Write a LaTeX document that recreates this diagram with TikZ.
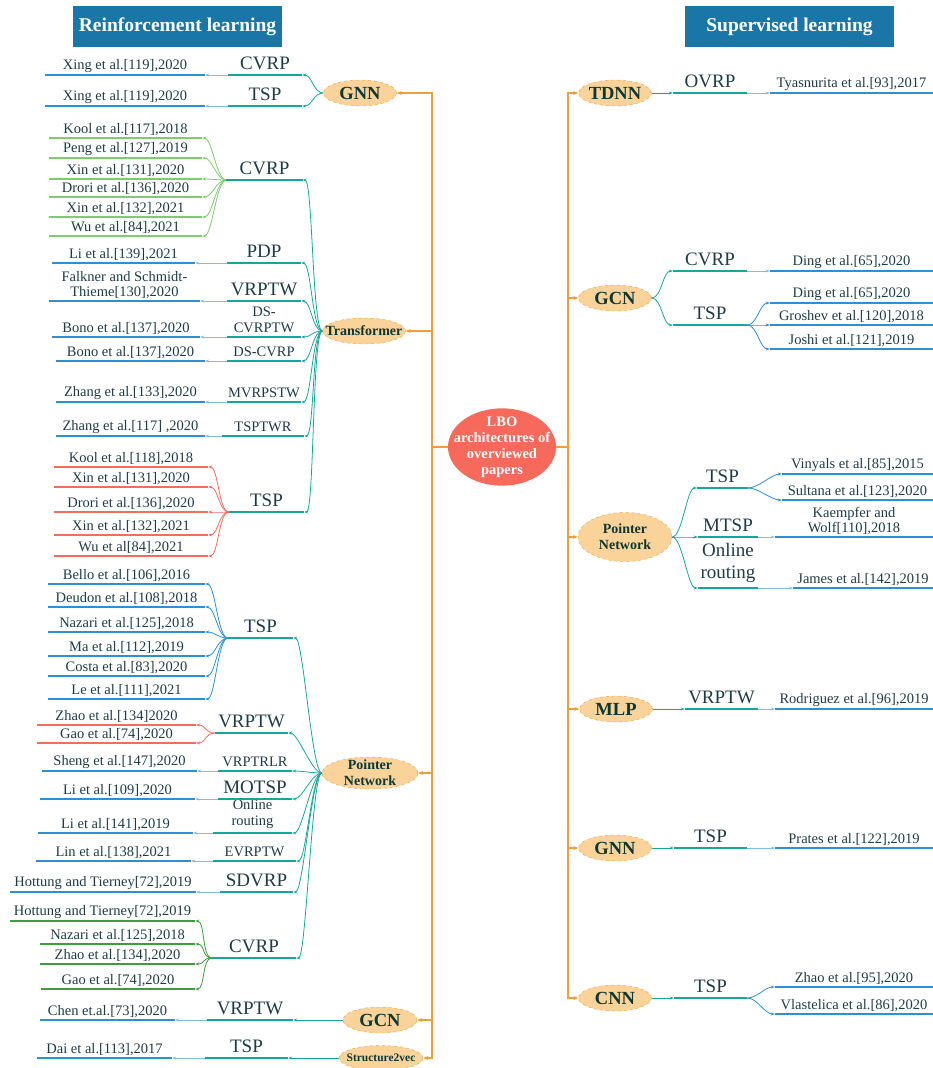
\documentclass[tikz,border=0pt]{standalone}
\usepackage{fontspec}
\setmainfont{Liberation Serif}
\usetikzlibrary{arrows.meta,shapes.geometric}
\definecolor{lbored}{HTML}{F7695B}
\definecolor{trunkor}{HTML}{EE9F3A}
\definecolor{archfill}{HTML}{FAD39A}
\definecolor{archink}{HTML}{0D3733}
\definecolor{headblue}{HTML}{1A76A6}
\definecolor{tealln}{HTML}{14A89C}
\definecolor{refblue}{HTML}{2B90D6}
\definecolor{lgreen}{HTML}{7ECC6F}
\definecolor{dgreen}{HTML}{3E9D3E}
\definecolor{refred}{HTML}{F66B5C}
\definecolor{ink}{HTML}{1F3C46}
\tikzset{
  root/.style={ellipse,fill=lbored,text=white,align=center,
    font=\bfseries\fontsize{14.5}{16}\selectfont,inner xsep=-11pt,inner ysep=-3pt,
    minimum width=108pt,minimum height=76pt},
  arch/.style={ellipse,draw=trunkor,dashed,fill=archfill,text=archink,align=center,
    font=\bfseries\fontsize{18.5}{20}\selectfont,inner xsep=-10pt,inner ysep=-2pt,
    minimum width=73pt,minimum height=26pt},
  head/.style={fill=headblue,text=white,font=\bfseries\fontsize{19.5}{22}\selectfont,
    minimum width=209pt,minimum height=41pt},
  task/.style={anchor=south,text=ink,align=center,inner xsep=0pt,inner ysep=5pt,
    font=\fontsize{19}{22}\selectfont},
  stask/.style={task,inner ysep=4pt,font=\fontsize{14.5}{16}\selectfont},
  paper/.style={anchor=south,text=ink,align=center,inner xsep=0pt,inner ysep=2.5pt,
    font=\fontsize{14.5}{15}\selectfont},
  trunk/.style={draw=trunkor,line width=1.1pt},
  feed/.style={trunk,-{Stealth[length=5pt,width=4pt]}},
  branch/.style={draw=tealln,line width=0.8pt,-{Stealth[length=4pt,width=3pt]}},
  link/.style={draw=#1,line width=0.8pt,-{Stealth[length=4pt,width=3pt]}},
  link/.default=refblue!60,
  taskline/.style={draw=tealln,line width=2.4pt},
  refline/.style={draw=#1,line width=2.4pt},
  lfan/.style={to path={.. controls ([xshift=-10pt]\tikztostart) and ([xshift=10pt]\tikztotarget) .. (\tikztotarget)}},
  rfan/.style={to path={.. controls ([xshift=10pt]\tikztostart) and ([xshift=-10pt]\tikztotarget) .. (\tikztotarget)}},
}
\begin{document}
\begin{tikzpicture}[x=1pt,y=-1pt]
\useasboundingbox (0,0) rectangle (933,1068);
\node[head] (rlhead) at (177.5,26.5) {Reinforcement learning};
\node[head] (slhead) at (789.5,26.5) {Supervised learning};
\node[root] (root) at (502,447) {LBO\\architectures of\\overviewed\\papers};
% reinforcement learning side
\node[arch] (lGNN) at (360,93) {GNN};
\node[task,minimum width=74pt] (lgCVRP) at (265,75) {CVRP};
\node[task,minimum width=74pt] (lgTSP) at (265,106) {TSP};
\node[paper,minimum width=160pt] (lgXing1) at (125,75) {Xing et al.[119],2020};
\node[paper,minimum width=160pt] (lgXing2) at (125,106) {Xing et al.[119],2020};
\node[arch,font=\bfseries\fontsize{14}{16}\selectfont,minimum width=83pt] (lTF) at (364,331) {Transformer};
\node[task,minimum width=76pt] (tfCVRP) at (264.5,180) {CVRP};
\node[task,minimum width=74pt] (tfPDP) at (264,263) {PDP};
\node[task,minimum width=74pt] (tfVRPTW) at (264,301) {VRPTW};
\node[stask,minimum width=74pt] (tfDSTW) at (264,337) {DS-\\CVRPTW};
\node[stask,minimum width=74pt] (tfDS) at (264,361) {DS-CVRP};
\node[stask,minimum width=74pt] (tfMV) at (264,402) {MVRPSTW};
\node[stask,minimum width=82pt] (tfTW) at (263,436) {TSPTWR};
\node[task,minimum width=75pt] (tfTSP) at (266.5,512) {TSP};
\node[paper,minimum width=153pt] (tfc1) at (125.5,138) {Kool et al.[117],2018};
\node[paper,minimum width=153pt] (tfc2) at (125.5,158) {Peng et al.[127],2019};
\node[paper,minimum width=153pt] (tfc3) at (125.5,179) {Xin et al.[131],2020};
\node[paper,minimum width=153pt] (tfc4) at (125.5,197) {Drori et al.[136],2020};
\node[paper,minimum width=153pt] (tfc5) at (125.5,217) {Xin et al.[132],2021};
\node[paper,minimum width=153pt] (tfc6) at (125.5,236) {Wu et al.[84],2021};
\node[paper,minimum width=143pt] (tfPDPp) at (123.5,263) {Li et al.[139],2021};
\node[paper,minimum width=151pt] (tfVRPTWp) at (124.5,301) {Falkner and Schmidt-\\Thieme[130],2020};
\node[paper,minimum width=148pt] (tfDSTWp) at (126,337) {Bono et al.[137],2020};
\node[paper,minimum width=149pt] (tfDSp) at (130.5,361) {Bono et al.[137],2020};
\node[paper,minimum width=149pt] (tfMVp) at (130.5,402) {Zhang et al.[133],2020};
\node[paper,minimum width=149pt] (tfTWp) at (130.5,436) {Zhang et al.[117] ,2020};
\node[paper,minimum width=154pt] (tft1) at (131,467) {Kool et al.[118],2018};
\node[paper,minimum width=154pt] (tft2) at (131,487) {Xin et al.[131],2020};
\node[paper,minimum width=154pt] (tft3) at (131,512) {Drori et al.[136],2020};
\node[paper,minimum width=154pt] (tft4) at (131,535) {Xin et al.[132],2021};
\node[paper,minimum width=154pt] (tft5) at (131,556) {Wu et al[84],2021};
\node[arch,font=\bfseries\fontsize{14}{16}\selectfont,minimum width=96pt,minimum height=32pt] (lPN) at (370,773) {Pointer\\Network};
\node[task,minimum width=65pt] (pnTSP) at (260.5,638) {TSP};
\node[task,minimum width=73pt] (pnVRPTW) at (251.5,733) {VRPTW};
\node[stask,minimum width=74pt] (pnRLR) at (255,771) {VRPTRLR};
\node[task,minimum width=74pt] (pnMO) at (255,799) {MOTSP};
\node[stask,minimum width=79pt] (pnOR) at (252.5,833) {Online\\routing};
\node[stask,minimum width=83pt] (pnEV) at (254.5,861) {EVRPTW};
\node[task,minimum width=73pt] (pnSD) at (256.5,892) {SDVRP};
\node[task,minimum width=84pt] (pnCVRP) at (254,958) {CVRP};
\node[paper,minimum width=157pt] (pnt1) at (126.5,584) {Bello et al.[106],2016};
\node[paper,minimum width=157pt] (pnt2) at (126.5,607) {Deudon et al.[108],2018};
\node[paper,minimum width=157pt] (pnt3) at (126.5,632) {Nazari et al.[125],2018};
\node[paper,minimum width=157pt] (pnt4) at (126.5,656) {Ma et al.[112],2019};
\node[paper,minimum width=157pt] (pnt5) at (126.5,676) {Costa et al.[83],2020};
\node[paper,minimum width=157pt] (pnt6) at (126.5,699) {Le et al.[111],2021};
\node[paper,minimum width=159pt] (pnv1) at (116.5,725) {Zhao et al.[134]2020};
\node[paper,minimum width=159pt] (pnv2) at (116.5,743) {Gao et al.[74],2020};
\node[paper,minimum width=155pt] (pnRLRp) at (119.5,771) {Sheng et al.[147],2020};
\node[paper,minimum width=155pt] (pnMOp) at (117.5,799) {Li et al.[109],2020};
\node[paper,minimum width=155pt] (pnORp) at (115.5,833) {Li et al.[141],2019};
\node[paper,minimum width=155pt] (pnEVp) at (113.5,861) {Lin et al.[138],2021};
\node[paper,minimum width=186pt] (pnSDp) at (103,892) {Hottung and Tierney[72],2019};
\node[paper,minimum width=185pt] (pnc1) at (102.5,921) {Hottung and Tierney[72],2019};
\node[paper,minimum width=155pt] (pnc2) at (117.5,944) {Nazari et al.[125],2018};
\node[paper,minimum width=155pt] (pnc3) at (117.5,964) {Zhao et al.[134],2020};
\node[paper,minimum width=154pt] (pnc4) at (118,989) {Gao et al.[74],2020};
\node[arch,minimum width=74pt] (lGCN) at (380,1020) {GCN};
\node[task,minimum width=86pt] (gcVRPTW) at (250,1020) {VRPTW};
\node[paper,minimum width=135pt] (gcP) at (107.5,1020) {Chen et.al.[73],2020};
\node[arch,font=\bfseries\fontsize{11.5}{13}\selectfont,minimum width=84pt,minimum height=25pt] (lS2V) at (381,1058) {Structure2vec};
\node[task,minimum width=83pt] (svTSP) at (246.5,1058) {TSP};
\node[paper,minimum width=135pt] (svP) at (104.5,1058) {Dai et al.[113],2017};
% supervised learning side
\node[arch] (rTDNN) at (615,93) {TDNN};
\node[task,minimum width=74pt] (rtOVRP) at (710,93) {OVRP};
\node[paper,minimum width=163pt] (rtP) at (851.5,93) {Tyasnurita et al.[93],2017};
\node[arch] (rGCN) at (615,298) {GCN};
\node[task,minimum width=74pt] (rgCVRP) at (710,271) {CVRP};
\node[task,minimum width=74pt] (rgTSP) at (710,325) {TSP};
\node[paper,minimum width=163pt] (rgc1) at (851.5,271) {Ding et al.[65],2020};
\node[paper,minimum width=163pt] (rgt1) at (851.5,303) {Ding et al.[65],2020};
\node[paper,minimum width=163pt] (rgt2) at (851.5,325) {Groshev et al.[120],2018};
\node[paper,minimum width=163pt] (rgt3) at (851.5,349) {Joshi et al.[121],2019};
\node[arch,font=\bfseries\fontsize{14}{16}\selectfont,minimum width=94pt,minimum height=49pt] (rPN) at (625,537) {Pointer\\Network};
\node[task,minimum width=51pt] (rpTSP) at (722.5,488) {TSP};
\node[task,minimum width=60pt] (rpMT) at (728,537) {MTSP};
\node[task,minimum width=60pt] (rpOR) at (728,588) {Online\\routing};
\node[paper,minimum width=151pt] (rpt1) at (857.5,474) {Vinyals et al.[85],2015};
\node[paper,minimum width=151pt] (rpt2) at (857.5,500) {Sultana et al.[123],2020};
\node[paper,minimum width=158pt] (rpMTp) at (854,537) {Kaempfer and\\Wolf[110],2018};
\node[paper,minimum width=140pt] (rpORp) at (863,588) {James et al.[142],2019};
\node[arch] (rMLP) at (616,709) {MLP};
\node[task,minimum width=73pt] (rmVRPTW) at (721.5,709) {VRPTW};
\node[paper,minimum width=158pt] (rmP) at (854,709) {Rodriguez et al.[96],2019};
\node[arch] (rGNN) at (615,848) {GNN};
\node[task,minimum width=73pt] (rnTSP) at (710.5,848) {TSP};
\node[paper,minimum width=158pt] (rnP) at (854,848) {Prates et al.[122],2019};
\node[arch] (rCNN) at (615,998) {CNN};
\node[task,minimum width=73pt] (rcTSP) at (710.5,998) {TSP};
\node[paper,minimum width=158pt] (rcp1) at (854,987) {Zhao et al.[95],2020};
\node[paper,minimum width=158pt] (rcp2) at (854,1014) {Vlastelica et al.[86],2020};
% trunk
\coordinate (lhub) at (432,447);
\coordinate (rhub) at (568,447);
\draw[trunk] (root.west) -- (lhub);
\draw[trunk] (root.east) -- (rhub);
\foreach \a in {lGNN,lTF,lPN,lGCN,lS2V} \draw[feed] (lhub) |- (\a.east);
\foreach \a in {rTDNN,rGCN,rPN,rMLP,rGNN,rCNN} \draw[feed] (rhub) |- (\a.west);
% architectures to problems
\foreach \t in {lgCVRP,lgTSP} \draw[branch] (lGNN.west) to[lfan] (\t.south east);
\foreach \t in {tfCVRP,tfPDP,tfVRPTW,tfDSTW,tfDS,tfMV,tfTW,tfTSP} \draw[branch] (lTF.west) to[lfan] (\t.south east);
\foreach \t in {pnTSP,pnVRPTW,pnRLR,pnMO,pnOR,pnEV,pnSD,pnCVRP} \draw[branch] (lPN.west) to[lfan] (\t.south east);
\draw[branch] (lGCN.west) -- (gcVRPTW.south east);
\draw[branch] (lS2V.west) -- (svTSP.south east);
\draw[branch] (rTDNN.east) -- (rtOVRP.south west);
\foreach \t in {rgCVRP,rgTSP} \draw[branch] (rGCN.east) to[rfan] (\t.south west);
\foreach \t in {rpTSP,rpMT,rpOR} \draw[branch] (rPN.east) to[rfan] (\t.south west);
\draw[branch] (rMLP.east) -- (rmVRPTW.south west);
\draw[branch] (rGNN.east) -- (rnTSP.south west);
\draw[branch] (rCNN.east) -- (rcTSP.south west);
% problems to papers
\draw[link] (lgCVRP.south west) -- (lgXing1.south east);
\draw[link] (lgTSP.south west) -- (lgXing2.south east);
\foreach \p in {tfc1,tfc2,tfc3,tfc4,tfc5,tfc6} \draw[link=lgreen] (tfCVRP.south west) to[lfan] (\p.south east);
\draw[link] (tfPDP.south west) -- (tfPDPp.south east);
\draw[link] (tfVRPTW.south west) -- (tfVRPTWp.south east);
\draw[link] (tfDSTW.south west) -- (tfDSTWp.south east);
\draw[link] (tfDS.south west) -- (tfDSp.south east);
\draw[link] (tfMV.south west) -- (tfMVp.south east);
\draw[link] (tfTW.south west) -- (tfTWp.south east);
\foreach \p in {tft1,tft2,tft3,tft4,tft5} \draw[link=refred] (tfTSP.south west) to[lfan] (\p.south east);
\foreach \p in {pnt1,pnt2,pnt3,pnt4,pnt5,pnt6} \draw[link=refblue] (pnTSP.south west) to[lfan] (\p.south east);
\foreach \p in {pnv1,pnv2} \draw[link=refred] (pnVRPTW.south west) to[lfan] (\p.south east);
\draw[link] (pnRLR.south west) -- (pnRLRp.south east);
\draw[link] (pnMO.south west) -- (pnMOp.south east);
\draw[link] (pnOR.south west) -- (pnORp.south east);
\draw[link] (pnEV.south west) -- (pnEVp.south east);
\draw[link] (pnSD.south west) -- (pnSDp.south east);
\foreach \p in {pnc1,pnc2,pnc3,pnc4} \draw[link=dgreen] (pnCVRP.south west) to[lfan] (\p.south east);
\draw[link] (gcVRPTW.south west) -- (gcP.south east);
\draw[link] (svTSP.south west) -- (svP.south east);
\draw[link] (rtOVRP.south east) -- (rtP.south west);
\draw[link] (rgCVRP.south east) -- (rgc1.south west);
\foreach \p in {rgt1,rgt2,rgt3} \draw[link=refblue] (rgTSP.south east) to[rfan] (\p.south west);
\foreach \p in {rpt1,rpt2} \draw[link=refblue] (rpTSP.south east) to[rfan] (\p.south west);
\draw[link] (rpMT.south east) -- (rpMTp.south west);
\draw[link] (rpOR.south east) -- (rpORp.south west);
\draw[link] (rmVRPTW.south east) -- (rmP.south west);
\draw[link] (rnTSP.south east) -- (rnP.south west);
\foreach \p in {rcp1,rcp2} \draw[link=refblue] (rcTSP.south east) to[rfan] (\p.south west);
% underlines
\foreach \t in {lgCVRP,lgTSP,tfCVRP,tfPDP,tfVRPTW,tfDSTW,tfDS,tfMV,tfTW,tfTSP,
  pnTSP,pnVRPTW,pnRLR,pnMO,pnOR,pnEV,pnSD,pnCVRP,gcVRPTW,svTSP,
  rtOVRP,rgCVRP,rgTSP,rpTSP,rpMT,rpOR,rmVRPTW,rnTSP,rcTSP}
  \draw[taskline] (\t.south west) -- (\t.south east);
\foreach \p in {lgXing1,lgXing2,tfPDPp,tfVRPTWp,tfDSTWp,tfDSp,tfMVp,tfTWp,
  pnt1,pnt2,pnt3,pnt4,pnt5,pnt6,pnRLRp,pnMOp,pnORp,pnEVp,pnSDp,gcP,svP,
  rtP,rgc1,rgt1,rgt2,rgt3,rpt1,rpt2,rpMTp,rpORp,rmP,rnP,rcp1,rcp2}
  \draw[refline=refblue] (\p.south west) -- (\p.south east);
\foreach \p in {tfc1,tfc2,tfc3,tfc4,tfc5,tfc6} \draw[refline=lgreen] (\p.south west) -- (\p.south east);
\foreach \p in {tft1,tft2,tft3,tft4,tft5,pnv1,pnv2} \draw[refline=refred] (\p.south west) -- (\p.south east);
\foreach \p in {pnc1,pnc2,pnc3,pnc4} \draw[refline=dgreen] (\p.south west) -- (\p.south east);
\end{tikzpicture}
\end{document}
